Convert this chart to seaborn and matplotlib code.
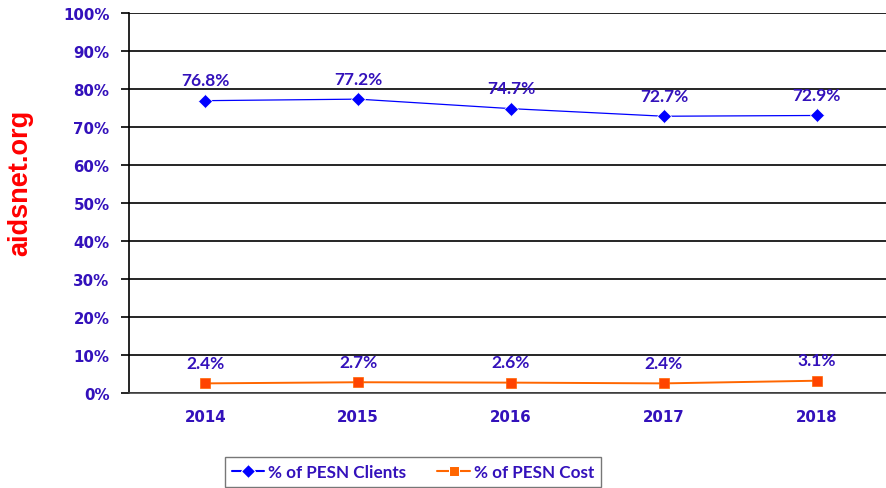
import matplotlib
matplotlib.use("Agg")
import matplotlib.pyplot as plt
import seaborn as sns
import pandas as pd

years = ["2014", "2015", "2016", "2017", "2018"]
clients = [76.8, 77.2, 74.7, 72.7, 72.9]
cost = [2.4, 2.7, 2.6, 2.4, 3.1]
series_names = ["% of PESN Clients", "% of PESN Cost"]
y_ticks = [0, 10, 20, 30, 40, 50, 60, 70, 80, 90, 100]

TXT = "#3311BB"

df = pd.DataFrame({
    "year": years * 2,
    "value": clients + cost,
    "series": [series_names[0]] * 5 + [series_names[1]] * 5,
})

sns.set_style("white")
plt.rcParams["font.family"] = ["DejaVu Sans"]

fig = plt.figure(figsize=(8.87, 4.89), dpi=100)
ax = fig.add_axes([129 / 887, 1 - 393.5 / 489, 1 - 129 / 887, 380 / 489])

sns.lineplot(data=df, x="year", y="value", hue="series", style="series",
             palette={series_names[0]: "#0000FF", series_names[1]: "#FF6600"},
             markers={series_names[0]: "D", series_names[1]: "s"},
             dashes=False, markersize=7, ax=ax, legend=True)

for ln, lw in zip(ax.lines[:2], [0.9, 1.4]):
    ln.set_linewidth(lw)
    ln.set_markeredgewidth(0.5)
ax.lines[1].set_markerfacecolor("#FF4400")
ax.lines[1].set_markeredgecolor("#FF6600")
ax.lines[1].set_markersize(7.5)

ax.set_ylim(0, 100)
ax.set_xlim(-0.5, 4.46)
ax.set_yticks(y_ticks)
ax.set_yticklabels([f"{t}%" for t in y_ticks])
ax.yaxis.grid(True, color="black", linewidth=1.2)
ax.set_axisbelow(True)
ax.set_xlabel("")
ax.set_ylabel("")

ax.set_xticks(range(len(years)))
ax.set_xticklabels(years)
ax.set_xticks([i + 0.5 for i in range(-1, len(years) - 1)], minor=True)
ax.tick_params(axis="x", which="major", length=0, pad=12)
ax.tick_params(axis="x", which="minor", length=5, color="#444444", width=1)
ax.tick_params(axis="y", length=6, color="black", width=1.2, pad=8, left=True)
for lab in ax.get_xticklabels() + ax.get_yticklabels():
    lab.set_fontweight("bold")
    lab.set_fontsize(10.8)
    lab.set_color(TXT)

for s in ["top", "right"]:
    ax.spines[s].set_visible(False)
ax.spines["left"].set_color("black")
ax.spines["left"].set_linewidth(1.2)
ax.spines["bottom"].set_color("#444444")
ax.spines["bottom"].set_linewidth(1.2)

for vals in [clients, cost]:
    for i, v in enumerate(vals):
        ax.annotate(f"{v}%", (i, v), xytext=(0, 9), textcoords="offset points",
                    ha="center", va="bottom", fontsize=12.5, fontweight="bold",
                    color=TXT, family=["Lato", "DejaVu Sans"])

leg = ax.legend(loc="center", bbox_to_anchor=(413 / 887, 1 - 473 / 489),
                bbox_transform=fig.transFigure, ncol=2, frameon=True,
                fancybox=False, handlelength=1.9, handletextpad=0.25,
                columnspacing=1.8,
                prop={"family": ["Lato", "DejaVu Sans"], "weight": "bold", "size": 12.3},
                borderpad=0.4, borderaxespad=0)
leg.get_frame().set_edgecolor("#555555")
leg.get_frame().set_linewidth(1.0)
for t in leg.get_texts():
    t.set_color(TXT)

fig.text(20 / 887, 1 - 183 / 489, "aidsnet.org", rotation=90, ha="center",
         va="center", color="#FF0000", fontsize=19.5, fontweight="bold",
         family=["Liberation Sans", "DejaVu Sans"])

fig.savefig("out.png", dpi=100)
